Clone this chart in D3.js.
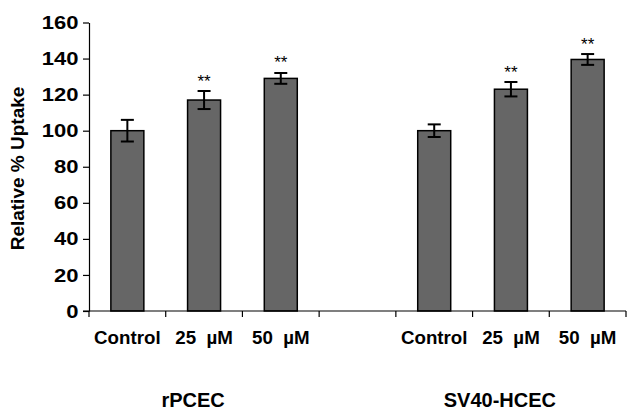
<!DOCTYPE html>
<html>
<head>
<meta charset="utf-8">
<script src="https://cdn.jsdelivr.net/npm/d3@7"></script>
<style>
  html, body { margin: 0; padding: 0; background: #fff; }
  text { font-family: Arial, "Liberation Sans", sans-serif; font-weight: bold; fill: #000; }
</style>
</head>
<body>
<svg id="chart" width="634" height="418"></svg>
<script>
// ---- data ----
const categories = ["Control", "25  µM", "50  µM", "", "Control", "25  µM", "50  µM"];
const groups = ["rPCEC", "SV40-HCEC"];
const groupMembers = [[0, 1, 2], [4, 5, 6]];
const values = [100, 117, 129, null, 100, 123, 139.5];
const errors = [6, 5, 3, null, 3.5, 4, 3];
const significance = ["", "**", "**", "", "", "**", "**"];
const yTicks = [0, 20, 40, 60, 80, 100, 120, 140, 160];
const yLabel = "Relative % Uptake";

// ---- layout ----
const svg = d3.select("#chart");
const x0 = 89, x1 = 626, yTop = 22.5, yBottom = 311;

const x = d3.scaleBand()
  .domain(d3.range(categories.length))
  .range([x0, x1])
  .paddingInner(0)
  .paddingOuter(0);
const barW = x.bandwidth() * 0.43;

const y = d3.scaleLinear().domain([0, 160]).range([yBottom, yTop]);

// bars
const idx = d3.range(values.length).filter(i => values[i] != null);
svg.append("g").selectAll("rect").data(idx).join("rect")
  .attr("x", i => x(i) + x.bandwidth() / 2 - barW / 2)
  .attr("y", i => y(values[i]))
  .attr("width", barW)
  .attr("height", i => y(0) - y(values[i]))
  .attr("fill", "#666666")
  .attr("stroke", "#000")
  .attr("stroke-width", 1.5);

// error bars
const capW = 13;
const eb = svg.append("g").attr("stroke", "#000").attr("stroke-width", 2);
idx.forEach(i => {
  const cx = x(i) + x.bandwidth() / 2;
  const hi = y(values[i] + errors[i]), lo = y(values[i] - errors[i]);
  eb.append("line").attr("x1", cx).attr("x2", cx).attr("y1", hi).attr("y2", lo);
  eb.append("line").attr("x1", cx - capW / 2).attr("x2", cx + capW / 2).attr("y1", hi).attr("y2", hi);
  eb.append("line").attr("x1", cx - capW / 2).attr("x2", cx + capW / 2).attr("y1", lo).attr("y2", lo);
});

// significance markers
svg.append("g").selectAll("text").data(idx.filter(i => significance[i])).join("text")
  .attr("x", i => x(i) + x.bandwidth() / 2)
  .attr("y", i => y(values[i] + errors[i]) - 4.5)
  .attr("text-anchor", "middle")
  .style("font-size", "17px")
  .style("font-weight", "normal")
  .text(i => significance[i]);

// y axis
const yAxis = d3.axisLeft(y).tickValues(yTicks).tickSize(6).tickPadding(3).tickSizeOuter(0);
const gy = svg.append("g").attr("transform", `translate(${x0},0)`).call(yAxis);
gy.select(".domain").attr("stroke", "#000").attr("stroke-width", 1.2);
gy.selectAll(".tick line").attr("stroke", "#000").attr("stroke-width", 1.2);
gy.selectAll(".tick text")
  .attr("transform", "scale(1.16,1)")
  .style("font-size", "19px")
  .style("font-family", "Arial, 'Liberation Sans', sans-serif")
  .style("font-weight", "bold")
  .attr("fill", "#000");

// x axis line & ticks at band boundaries
const gx = svg.append("g");
gx.append("line").attr("x1", x0 - 6).attr("x2", x1).attr("y1", yBottom).attr("y2", yBottom)
  .attr("stroke", "#000").attr("stroke-width", 1.2);
const bounds = d3.range(categories.length).map(i => x(i)).concat([x1]);
gx.selectAll("line.t").data(bounds).join("line").attr("class", "t")
  .attr("x1", d => d).attr("x2", d => d)
  .attr("y1", yBottom).attr("y2", yBottom + 6)
  .attr("stroke", "#000").attr("stroke-width", 1.2);

// category labels
svg.append("g").selectAll("text").data(d3.range(categories.length).filter(i => categories[i])).join("text")
  .attr("transform", i => `translate(${x(i) + x.bandwidth() / 2},344) scale(1.07,1)`)
  .attr("text-anchor", "middle")
  .style("font-size", "17.5px")
  .style("white-space", "pre")
  .text(i => categories[i]);

// group labels
svg.append("g").selectAll("text").data(groups).join("text")
  .attr("x", (g, k) => d3.mean(groupMembers[k], i => x(i) + x.bandwidth() / 2) - 11)
  .attr("y", 406.5)
  .attr("text-anchor", "middle")
  .style("font-size", "20px")
  .text(g => g);

// y label
svg.append("text")
  .attr("transform", `translate(24,168.5) rotate(-90)`)
  .attr("text-anchor", "middle")
  .style("font-size", "19px")
  .text(yLabel);
</script>
</body>
</html>
